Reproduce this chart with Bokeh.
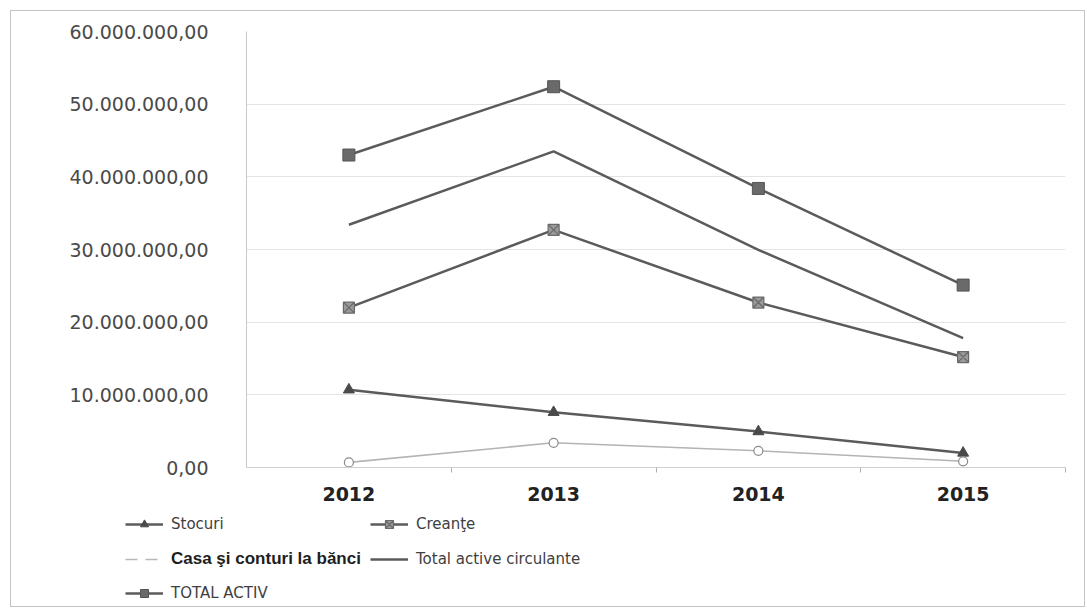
from bokeh.plotting import figure
from bokeh.layouts import column
from bokeh.models import Range1d, FixedTicker, Legend, LegendItem
from bokeh.embed import file_html
from bokeh.resources import INLINE

# Balance sheet items, lei
years = ["2012", "2013", "2014", "2015"]
stocuri = [10.7e6, 7.6e6, 4.95e6, 2.0e6]
creante = [22.0e6, 32.7e6, 22.7e6, 15.2e6]
casa = [0.7e6, 3.4e6, 2.3e6, 0.85e6]
total_circulante = [33.4e6, 43.5e6, 29.95e6, 17.8e6]
total_activ = [43.0e6, 52.4e6, 38.4e6, 25.1e6]

y_ticks = [0, 10e6, 20e6, 30e6, 40e6, 50e6, 60e6]
y_tick_labels = ["0,00", "10.000.000,00", "20.000.000,00", "30.000.000,00",
                 "40.000.000,00", "50.000.000,00", "60.000.000,00"]

labels = ["Stocuri", "Creanţe", "Casa şi conturi la bănci",
          "Total active circulante", "TOTAL ACTIV"]

x = [i + 0.5 for i in range(len(years))]

LINE = "#5b5b5b"
GRID = "#e4e4e4"

# series styles, shared by the chart and the legend keys
STY = {
    "tot_l": dict(line_color=LINE, line_width=2.5),
    "tot_m": dict(marker="square", size=12, fill_color="#6a6a6a", line_color="#555555"),
    "circ": dict(line_color=LINE, line_width=2.5),
    "cre_l": dict(line_color=LINE, line_width=2.5),
    "cre_m": dict(marker="square_x", size=11, fill_color="#9a9a9a",
                  line_color="#6a6a6a", line_width=1.2),
    "sto_l": dict(line_color=LINE, line_width=2.5),
    "sto_m": dict(marker="triangle", size=11, fill_color="#4a4a4a", line_color="#4a4a4a"),
    "casa_l": dict(line_color="#b4b4b4", line_width=1.6),
    "casa_m": dict(marker="circle", size=9, fill_color="white",
                   line_color="#8a8a8a", line_width=1.2),
}

p = figure(width=1073, height=495, output_backend="svg", toolbar_location=None,
           x_range=Range1d(0, len(years)), y_range=Range1d(0, 60e6),
           min_border_left=235, min_border_right=19, min_border_top=20,
           min_border_bottom=39, frame_align=False)
p.outline_line_color = None
p.background_fill_color = "white"
p.border_fill_color = "white"

# axes
p.yaxis.ticker = FixedTicker(ticks=y_ticks)
p.yaxis.major_label_overrides = dict(zip(y_ticks, y_tick_labels))
p.yaxis.major_label_text_font = "DejaVu Sans"
p.yaxis.major_label_text_font_size = "19px"
p.yaxis.major_label_text_color = "#4a4a4a"
p.yaxis.major_label_standoff = 32
p.yaxis.major_tick_line_color = None
p.yaxis.minor_tick_line_color = None
p.yaxis.axis_line_color = "#c8c8c8"

p.xaxis.ticker = FixedTicker(ticks=x, minor_ticks=list(range(1, len(years) + 1)))
p.xaxis.major_label_overrides = dict(zip(x, years))
p.xaxis.major_label_text_font = "DejaVu Sans"
p.xaxis.major_label_text_font_style = "bold"
p.xaxis.major_label_text_font_size = "19px"
p.xaxis.major_label_text_color = "#222222"
p.xaxis.major_label_standoff = 13
p.xaxis.major_tick_line_color = None
p.xaxis.minor_tick_line_color = "#b0b0b0"
p.xaxis.minor_tick_out = 5
p.xaxis.minor_tick_in = 0
p.xaxis.axis_line_color = "#d0d0d0"

p.xgrid.grid_line_color = None
p.ygrid.grid_line_color = GRID
p.ygrid.grid_line_width = 1

# series
p.line(x, total_activ, **STY["tot_l"])
p.scatter(x, total_activ, **STY["tot_m"])
p.line(x, total_circulante, **STY["circ"])
p.line(x, creante, **STY["cre_l"])
p.scatter(x, creante, **STY["cre_m"])
p.line(x, stocuri, **STY["sto_l"])
p.scatter(x, stocuri, **STY["sto_m"])
p.line(x, casa, **STY["casa_l"])
p.scatter(x, casa, **STY["casa_m"])

# legend strip below the chart; its renderers are hidden and only feed the keys
lg = figure(width=1073, height=100, output_backend="svg", toolbar_location=None,
            x_range=Range1d(0, len(years)), y_range=Range1d(0, 60e6),
            min_border_left=0, min_border_right=0, min_border_top=0,
            min_border_bottom=0, frame_align=False)
lg.axis.visible = False
lg.grid.visible = False
lg.outline_line_color = None
lg.background_fill_color = "white"
lg.border_fill_color = "white"


def hidden(r):
    r.visible = False
    return r


k_sto = [hidden(lg.line(x, stocuri, **STY["sto_l"])),
         hidden(lg.scatter(x, stocuri, **STY["sto_m"]))]
k_cre = [hidden(lg.line(x, creante, **STY["cre_l"])),
         hidden(lg.scatter(x, creante, **STY["cre_m"]))]
k_casa = [hidden(lg.line(x, casa, line_color="#b8b8b8", line_width=1.6,
                         line_dash="12 8"))]
k_circ = [hidden(lg.line(x, total_circulante, **STY["circ"]))]
k_tot = [hidden(lg.line(x, total_activ, **STY["tot_l"])),
         hidden(lg.scatter(x, total_activ, **STY["tot_m"]))]


def add_key(label, renderers, loc, font="DejaVu Sans", size="15px",
            style="normal", color="#404040"):
    leg = Legend(items=[LegendItem(label=label, renderers=renderers)],
                 location=loc, orientation="horizontal",
                 glyph_width=38, glyph_height=20, label_standoff=8,
                 padding=0, margin=0, spacing=0,
                 border_line_color=None, background_fill_alpha=0,
                 inactive_fill_alpha=0, click_policy="none",
                 label_text_font=font, label_text_font_size=size,
                 label_text_font_style=style, label_text_color=color)
    lg.add_layout(leg, "center")


add_key(labels[0], k_sto, (114, 72))
add_key(labels[1], k_cre, (359, 72))
add_key(labels[2], k_casa, (114, 37), font="Liberation Sans", size="17px",
        style="bold", color="#1e1e1e")
add_key(labels[3], k_circ, (359, 37))
add_key(labels[4], k_tot, (114, 3))

layout = column(p, lg, margin=(10, 4, 6, 10), spacing=0,
                styles={"border": "1px solid #c4c4c4"})

open("out.html", "w").write(file_html(layout, INLINE))
